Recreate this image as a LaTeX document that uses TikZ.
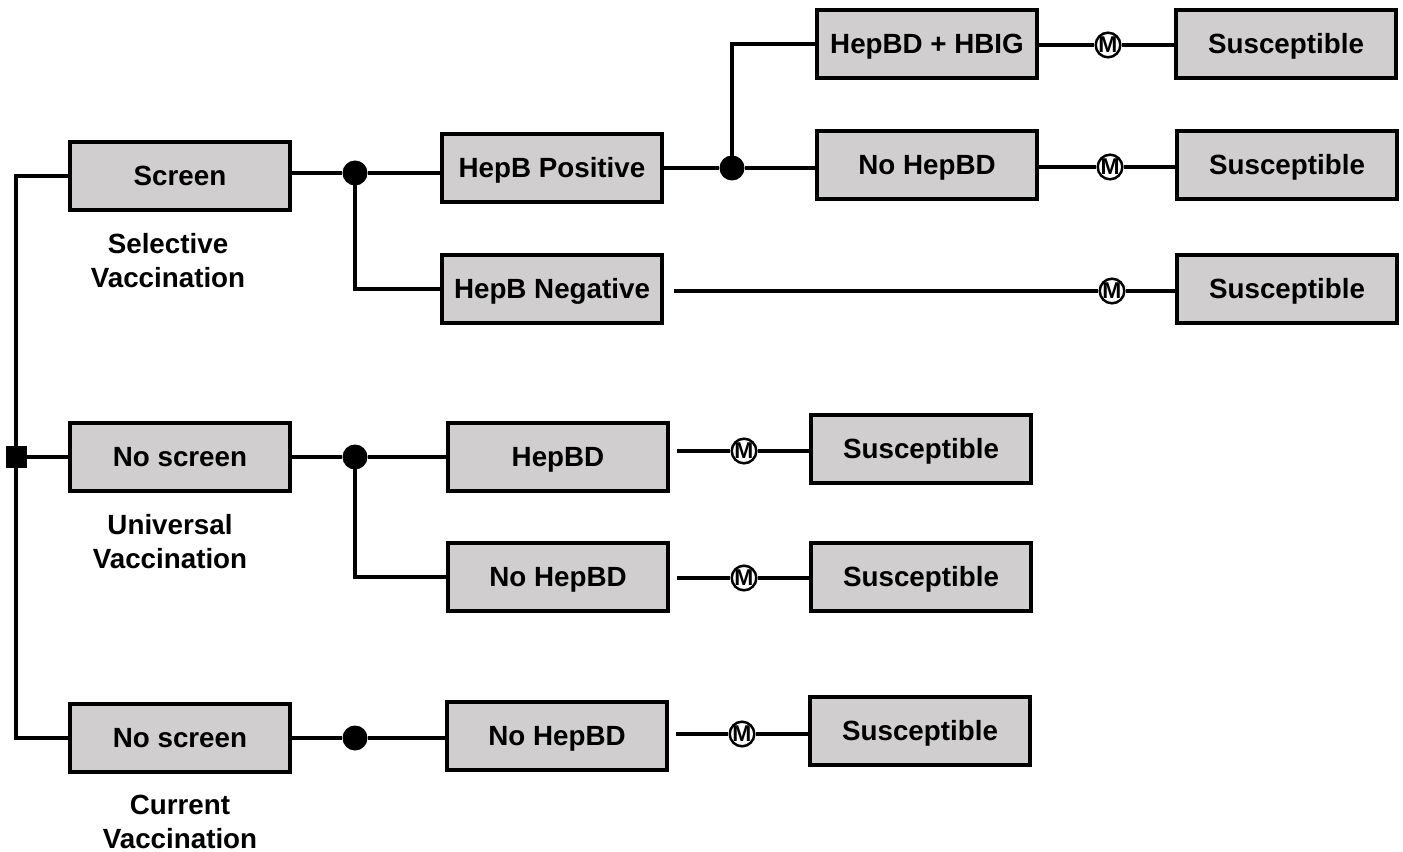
\documentclass[tikz,border=0pt]{standalone}
\usepackage{fontspec}
\setmainfont{Liberation Sans}
\usepackage{xcolor}
\definecolor{boxgray}{RGB}{208,206,206}

\tikzset{
  treebox/.style={draw=black, line width=1.15pt, fill=boxgray, minimum width=2.2cm,
    minimum height=0.68cm, inner sep=0pt, text height=5.6pt, text depth=0pt,
    font=\fontsize{7.9}{9.4}\selectfont\bfseries},
  chance/.style={circle, fill=black, minimum size=0.25cm, inner sep=0pt},
  decision/.style={rectangle, fill=black, minimum size=0.21cm, inner sep=0pt},
  markov/.style={circle, draw=black, line width=0.7pt, fill=white, minimum size=0.24cm,
    inner sep=0pt, font=\fontsize{6.5}{7}\selectfont\bfseries},
  armlabel/.style={align=center, font=\fontsize{7.9}{9.7}\selectfont\bfseries},
  branch/.style={line width=1pt}
}

\begin{document}
\begin{tikzpicture}[x=1cm, y=1cm]
    \useasboundingbox (0,0) rectangle (14.03,-8.52);

    % Decision
    \node[decision] (dec) at (0.16,-4.57) {};

    % Strategies
    \node[treebox] (screen) at (1.80,-1.76) {Screen};
    \node[treebox] (univ) at (1.80,-4.57) {No screen};
    \node[treebox] (cur) at (1.80,-7.38) {No screen};
    \node[armlabel] (lsel) at (1.68,-2.61) {Selective\\Vaccination};
    \node[armlabel] (luni) at (1.70,-5.42) {Universal\\Vaccination};
    \node[armlabel] (lcur) at (1.80,-8.22) {Current\\Vaccination};

    % Chance nodes
    \node[chance] (c1) at (3.55,-1.73) {};
    \node[chance] (c2) at (7.32,-1.68) {};
    \node[chance] (c3) at (3.55,-4.57) {};
    \node[chance] (c4) at (3.55,-7.38) {};

    % Screening arm
    \node[treebox] (pos) at (5.52,-1.68) {HepB Positive};
    \node[treebox] (neg) at (5.52,-2.89) {HepB Negative};
    \node[treebox] (hbig) at (9.27,-0.44) {HepBD + HBIG};
    \node[treebox] (nohb1) at (9.27,-1.65) {No HepBD};

    % Universal arm
    \node[treebox] (hbd) at (5.58,-4.57) {HepBD};
    \node[treebox] (nohb2) at (5.58,-5.77) {No HepBD};

    % Current arm
    \node[treebox] (nohb3) at (5.57,-7.36) {No HepBD};

    % Markov nodes
    \node[markov] (m1) at (11.08,-0.45) {M};
    \node[markov] (m2) at (11.10,-1.67) {M};
    \node[markov] (m3) at (11.12,-2.91) {M};
    \node[markov] (m4) at (7.44,-4.51) {M};
    \node[markov] (m5) at (7.44,-5.78) {M};
    \node[markov] (m6) at (7.42,-7.34) {M};

    % Terminal states
    \node[treebox] (s1) at (12.86,-0.44) {Susceptible};
    \node[treebox] (s2) at (12.87,-1.65) {Susceptible};
    \node[treebox] (s3) at (12.87,-2.89) {Susceptible};
    \node[treebox] (s4) at (9.21,-4.49) {Susceptible};
    \node[treebox] (s5) at (9.21,-5.77) {Susceptible};
    \node[treebox] (s6) at (9.20,-7.31) {Susceptible};

    % Branches
    \draw[branch] (screen.west) -| (dec.center) |- (cur.west);
    \draw[branch] (dec) -- (univ.west);
    \draw[branch] (screen.east |- c1) -- (c1) -- (c1 -| pos.west);
    \draw[branch] (c1.center) |- (neg.west);
    \draw[branch] (pos.east |- c2) -- (c2) -- (c2 -| nohb1.west);
    \draw[branch] (c2.center) |- (hbig.west);
    \draw[branch] (univ.east) -- (c3) -- (hbd.west);
    \draw[branch] (c3.center) |- (nohb2.west);
    \draw[branch] (cur.east) -- (c4) -- (c4 -| nohb3.west);

    % Markov links
    \draw[branch] (hbig.east |- m1) -- (m1) -- (m1 -| s1.west);
    \draw[branch] (nohb1.east |- m2) -- (m2) -- (m2 -| s2.west);
    \draw[branch] ([xshift=0.1cm]neg.east |- m3) -- (m3) -- (m3 -| s3.west);
    \draw[branch] ([xshift=0.07cm]hbd.east |- m4) -- (m4) -- (m4 -| s4.west);
    \draw[branch] ([xshift=0.07cm]nohb2.east |- m5) -- (m5) -- (m5 -| s5.west);
    \draw[branch] ([xshift=0.07cm]nohb3.east |- m6) -- (m6) -- (m6 -| s6.west);
\end{tikzpicture}
\end{document}
